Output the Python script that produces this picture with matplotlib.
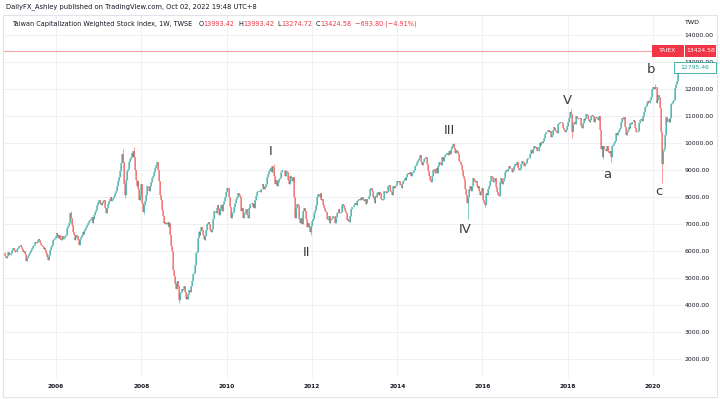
import numpy as np
import pandas as pd
import matplotlib
matplotlib.use("Agg")
import matplotlib.pyplot as plt
import matplotlib.dates as mdates
from matplotlib.patches import Rectangle
from matplotlib.ticker import FuncFormatter

# --------------------------
# Weekly closes of TAIEX, one list per year
# --------------------------
FIRST_OPEN = 5950
c2004 = [5920, 5810, 5760, 5830, 5950, 5990, 5850, 5870, 5930, 6000, 6050, 6140]
c2005 = [6040, 5990, 5960, 6010, 6080, 6130, 6190, 6200, 6240, 6170, 6080, 5990, 6010,
         5890, 5760, 5650, 5770, 5830, 5890, 5920, 5980, 6050, 6110, 6180, 6240,
         6260, 6330, 6290, 6360, 6410, 6460, 6400, 6300, 6240, 6190, 6150, 6090, 6130, 6040,
         5930, 5790, 5700, 5660, 5880, 6040, 6160, 6240, 6330, 6400, 6460, 6510, 6550]
c2006 = [6670, 6590, 6510, 6600, 6450, 6400, 6480, 6550, 6450, 6500, 6560, 6600, 6620,
         6860, 6950, 7050, 7120, 7400, 7230, 6970, 6710, 6600, 6420, 6510, 6620, 6560,
         6420, 6300, 6250, 6460, 6520, 6610, 6700, 6650, 6760, 6820, 6900, 6960, 6980,
         7050, 7110, 7160, 7210, 7260, 7060, 7200, 7350, 7460, 7540, 7610, 7700, 7820]
c2007 = [7910, 7750, 7800, 7700, 7780, 7850, 7900, 7600, 7450, 7400, 7600, 7750, 7880,
         7950, 8000, 7880, 7900, 7980, 8050, 8100, 8150, 8250, 8400, 8600, 8750, 8880,
         8980, 9280, 9610, 9300, 8950, 8500, 8090, 8650, 8980, 9050, 9150, 9300, 9410,
         9500, 9650, 9480, 9710, 9500, 9000, 8650, 8400, 8590, 8300, 7900, 8100, 8510]
c2008 = [8200, 7800, 7450, 7700, 7850, 8100, 8300, 8400, 8410, 8250, 8400, 8500, 8570,
         8700, 8800, 8950, 8920, 9100, 9200, 9300, 9000, 8620, 8450, 8100, 7900, 7520,
         7300, 7050, 7100, 7020, 7050, 7000, 7100, 6900, 7050, 6600, 6200, 6000, 5720,
         5300, 5100, 4800, 4600, 4870, 4900, 4700, 4200, 4460, 4500, 4600, 4550, 4590]
c2009 = [4700, 4500, 4250, 4300, 4250, 4400, 4550, 4500, 4560, 4700, 4900, 5150, 5210,
         5500, 5700, 5950, 5990, 6500, 6700, 6600, 6750, 6890, 6800, 6600, 6450, 6430,
         6550, 6800, 7000, 7050, 7080, 7000, 6800, 6700, 6830, 7200, 7400, 7500, 7510,
         7400, 7600, 7700, 7550, 7340, 7600, 7700, 7500, 7580, 7750, 7850, 8000, 8190]
c2010 = [8190, 8350, 8300, 8000, 7640, 7230, 7300, 7400, 7440, 7650, 7800, 7850, 7920,
         8000, 8150, 8100, 8000, 7950, 7500, 7600, 7250, 7370, 7400, 7450, 7550, 7330,
         7250, 7480, 7600, 7750, 7760, 7800, 7650, 7750, 7620, 7900, 8050, 8200, 8240,
         8230, 8250, 8200, 8300, 8290, 8500, 8400, 8300, 8370, 8500, 8700, 8750, 8850, 8970]
c2011 = [9050, 9100, 8950, 9150, 9100, 8800, 8500, 8600, 8650, 8400, 8550, 8680,
         8700, 8900, 8950, 9000, 9010, 9000, 8900, 8800, 8990, 8950, 8650, 8500, 8650,
         8800, 8700, 8600, 8750, 8640, 8000, 7250, 7600, 7740, 7700, 7500, 7200, 7050, 7230,
         7000, 7400, 7500, 7590, 7500, 7200, 6900, 6900, 7050, 6900, 6700, 6950, 7070]
c2012 = [7120, 7180, 7400, 7520, 7700, 7900, 8000, 8120, 8080, 8000, 8150, 7900, 7930,
         7700, 7600, 7500, 7500, 7450, 7200, 7150, 7300, 7050, 7150, 7200, 7250, 7300,
         7300, 7100, 7050, 7270, 7400, 7450, 7550, 7400, 7400, 7450, 7700, 7750, 7710,
         7600, 7500, 7400, 7170, 7200, 7150, 7100, 7300, 7580, 7600, 7650, 7650, 7700]
c2013 = [7800, 7750, 7700, 7850, 7900, 7950, 7900, 7980, 7950, 8000, 7900, 7850, 7920,
         7750, 7800, 7950, 7930, 8050, 8200, 8300, 8350, 8250, 8000, 7950, 7800, 8060,
         8000, 8150, 8200, 8100, 8200, 8150, 7950, 7900, 7920, 8100, 8250, 8230, 8170,
         8200, 8300, 8400, 8450, 8250, 8200, 8100, 8300, 8410, 8350, 8400, 8450, 8610]
c2014 = [8600, 8550, 8600, 8450, 8460, 8350, 8500, 8600, 8640, 8700, 8650, 8750, 8850,
         8900, 8850, 8950, 8790, 8800, 8900, 8950, 9000, 9080, 9150, 9200, 9300, 9390,
         9450, 9500, 9550, 9320, 9200, 9300, 9350, 9400, 9440, 9500, 9250, 9100, 8970,
         8800, 8650, 8550, 8800, 8970, 9000, 9050, 8900, 8950, 9100, 8900, 9150, 9300]
c2015 = [9270, 9200, 9350, 9500, 9360, 9500, 9550, 9600, 9620, 9650, 9550, 9700, 9590,
         9650, 9800, 9900, 9970, 9820, 9800, 9650, 9750, 9700, 9600, 9350, 9300, 9320,
         9200, 9000, 8800, 8700, 8660, 8300, 8100, 7800, 8020, 8150, 8300, 8400, 8250,
         8400, 8550, 8700, 8650, 8550, 8600, 8400, 8350, 8400, 8250, 8100, 8200, 8340]
c2016 = [8340, 7900, 7800, 7700, 8140, 8150, 8100, 8300, 8410, 8600, 8700, 8800, 8740,
         8550, 8600, 8700, 8500, 8380, 8200, 8100, 8050, 8350, 8550, 8700, 8500, 8600,
         8700, 8800, 8950, 9000, 8980, 9050, 9100, 9150, 9070, 9100, 8950, 9000, 9150, 9170,
         9250, 9200, 9300, 9290, 9100, 9000, 9050, 9240, 9300, 9350, 9300, 9150, 9250]
c2017 = [9270, 9350, 9400, 9450, 9450, 9600, 9750, 9750, 9650, 9800, 9900, 9850, 9810,
         9850, 9700, 9700, 9870, 10000, 9950, 10050, 10000, 10100, 10200, 10300, 10350, 10400,
         10400, 10500, 10450, 10430, 10450, 10250, 10300, 10500, 10600, 10550, 10500, 10450, 10380,
         10500, 10700, 10750, 10790, 10800, 10750, 10700, 10560, 10500, 10400, 10500, 10600, 10640]
c2018 = [10800, 10950, 11150, 11100, 10900, 10400, 10700, 10800, 10700, 10850, 11000, 10950, 10900,
         10900, 10950, 10700, 10650, 10550, 10750, 10900, 10880, 10950, 11100, 11050, 10900, 10840,
         10800, 10850, 11000, 11060, 11000, 10950, 10800, 10950, 10990, 10950, 10850, 10900, 11000,
         10500, 9800, 9900, 9500, 9900, 9800, 9800, 9700, 9890, 9850, 9700, 9650, 9730]
c2019 = [9500, 9800, 9900, 9930, 10000, 10100, 10200, 10390, 10300, 10400, 10500, 10550, 10640,
         10800, 10950, 10900, 10970, 10900, 10600, 10300, 10400, 10500, 10600, 10550, 10750, 10730,
         10800, 10780, 10850, 10820, 10550, 10400, 10400, 10450, 10620, 10750, 10850, 10900, 10830,
         10900, 11000, 11150, 11350, 11400, 11500, 11550, 11500, 11490, 11600, 11700, 11900, 12000]
c2020 = [12100, 12000, 12100, 12090, 11500, 11600, 11800, 11700, 11290, 11300, 10400, 9230, 9700,
         9800, 10300, 10600, 10990, 10800, 10800, 10900, 10800, 10940, 11450, 11500, 11550, 11620,
         11900, 12050, 12200, 12300, 12660, 12795.46]

# intraday extremes that poke out of the weekly bodies
wick_dates = ["2006-05-12", "2007-07-27", "2007-08-17", "2007-11-02", "2008-01-25",
              "2008-05-23", "2008-11-21", "2010-01-22", "2011-02-11", "2011-12-23",
              "2015-05-01", "2015-08-28", "2016-01-22", "2018-01-26", "2018-02-09",
              "2018-10-26", "2019-01-04", "2020-01-17", "2020-03-20"]
wick_prices = [7474, 9807, 7990, 9859, 7384, 9309, 4089, 8395, 9220, 6609,
               10014, 7203, 7627, 11270, 10189, 9400, 9319, 12197, 8523]

# Elliott wave labels
wave_labels = ["I", "II", "III", "IV", "V", "a", "b", "c"]
wave_dates = ["2011-01-15", "2011-11-20", "2015-03-20", "2015-08-05",
              "2017-12-25", "2018-12-08", "2019-12-14", "2020-02-20"]
wave_prices = [9680, 5970, 10490, 6790, 11600, 8830, 12715, 8200]

LAST_PRICE = 13424.58
LEGEND_VALUES = ["13993.42", "13993.42", "13274.72", "13424.58", "\u2212693.80 (\u22124.91%)"]

# --------------------------
# Build the weekly frame
# --------------------------
year_starts = [("2004-10-15", c2004), ("2005-01-01", c2005), ("2006-01-01", c2006),
               ("2007-01-01", c2007), ("2008-01-01", c2008), ("2009-01-01", c2009),
               ("2010-01-01", c2010), ("2011-01-01", c2011), ("2012-01-01", c2012),
               ("2013-01-01", c2013), ("2014-01-01", c2014), ("2015-01-01", c2015),
               ("2016-01-01", c2016), ("2017-01-01", c2017), ("2018-01-01", c2018),
               ("2019-01-01", c2019), ("2020-01-01", c2020)]
dates, closes = [], []
for start, vals in year_starts:
    dates.extend(pd.date_range(start=start, periods=len(vals), freq="W-FRI"))
    closes.extend(vals)
df = pd.DataFrame({"date": dates, "close": closes})
df["open"] = df["close"].shift(1).fillna(FIRST_OPEN)
df["high"] = df[["open", "close"]].max(axis=1)
df["low"] = df[["open", "close"]].min(axis=1)
for d, p in zip(wick_dates, wick_prices):
    m = df["date"] == pd.Timestamp(d)
    df.loc[m, "high"] = np.maximum(df.loc[m, "high"], p)
    df.loc[m, "low"] = np.minimum(df.loc[m, "low"], p)

UP, DOWN = "#26a69a", "#ef5350"
TXT = "#131722"
W, H = 720, 399

def fx(px):
    return px / W

def fy(py):
    return 1 - py / H

fig = plt.figure(figsize=(W / 100, H / 100), dpi=100)
ax = fig.add_axes([fx(3), fy(378), (682 - 3) / W, (378 - 15) / H])

x = mdates.date2num(df["date"])
cols = np.where(df["close"] >= df["open"], UP, DOWN)
ax.vlines(x, df["low"], df["high"], colors=cols, lw=0.6, alpha=0.65, zorder=3)
ax.vlines(x, df["open"], df["close"], colors=cols, lw=1.1, alpha=0.65, zorder=3)

ax.set_xlim(mdates.date2num(pd.Timestamp("2004-10-04")), mdates.date2num(pd.Timestamp("2020-09-05")))
ax.set_ylim(1307, 14752)

# axes styling (TradingView look)
for s in ax.spines.values():
    s.set_visible(False)
ax.set_yticks(np.arange(2000, 14001, 1000))
ax.yaxis.tick_right()
ax.yaxis.set_major_formatter(FuncFormatter(lambda v, _: f"{v:.2f}"))
ax.xaxis.set_major_locator(mdates.YearLocator(2))
ax.xaxis.set_major_formatter(mdates.DateFormatter("%Y"))
ax.tick_params(axis="y", length=0, pad=2, labelsize=4.4, labelcolor=TXT)
ax.tick_params(axis="x", length=0, pad=4, labelsize=4.2, labelcolor=TXT)
for lab in ax.get_xticklabels():
    lab.set_fontweight("bold")
ax.grid(True, color="#eef0f5", lw=0.7, zorder=0)

# current price line
ax.axhline(LAST_PRICE, xmax=(652 - 3) / (682 - 3), color="#f23645", alpha=0.45, lw=0.8, zorder=2)

# wave labels
for lab, d, p in zip(wave_labels, wave_dates, wave_prices):
    ax.text(mdates.date2num(pd.Timestamp(d)), p, lab, ha="center", va="center",
            fontsize=9.5, color="#3b3b3b", zorder=5)

# chart frame
fig.add_artist(Rectangle((fx(3), fy(397)), (717 - 3) / W, (397 - 15) / H, fill=False,
                         ec="#e0e3eb", lw=0.8, transform=fig.transFigure))

# header + legend line
fig.text(fx(6), fy(7), "DailyFX_Ashley published on TradingView.com, Oct 02, 2022 19:48 UTC+8",
         fontsize=4.9, color=TXT, va="center")
prev = fig.text(fx(12), fy(24), "Taiwan Capitalization Weighted Stock Index, 1W, TWSE",
                fontsize=4.7, color=TXT, va="center")
pieces = [("O", TXT, 4.5), (LEGEND_VALUES[0], "#f23645", 0.0),
          ("H", TXT, 2.5), (LEGEND_VALUES[1], "#f23645", 0.0),
          ("L", TXT, 2.5), (LEGEND_VALUES[2], "#f23645", 0.0),
          ("C", TXT, 2.5), (LEGEND_VALUES[3], "#f23645", 0.0),
          (LEGEND_VALUES[4], "#f23645", 2.5)]
for txt, col, gap in pieces:
    prev = ax.annotate(txt, xy=(1, 0), xycoords=prev, xytext=(gap, 0), textcoords="offset points",
                       ha="left", va="bottom", fontsize=4.7, color=col, annotation_clip=False)

fig.text(fx(684), fy(22), "TWD", fontsize=4.6, color=TXT, va="center")

# price tags on the right scale
fig.canvas.draw()
def price_py(p):
    return H - ax.transData.transform((0, p))[1]

py = price_py(LAST_PRICE)
fig.add_artist(Rectangle((fx(652), fy(py + 6)), 31.5 / W, 12 / H, fc="#f23645", ec="none",
                         transform=fig.transFigure, zorder=4))
fig.add_artist(Rectangle((fx(684.5), fy(py + 6)), 31.5 / W, 12 / H, fc="#f23645", ec="none",
                         transform=fig.transFigure, zorder=4))
fig.text(fx(667.8), fy(py), "TAIEX", fontsize=4.4, color="white", ha="center", va="center", zorder=5)
fig.text(fx(700.3), fy(py), f"{LAST_PRICE:.2f}", fontsize=4.4, color="white", ha="center",
         va="center", zorder=5)

last_close = df["close"].iloc[-1]
py2 = price_py(last_close)
fig.add_artist(Rectangle((fx(674), fy(py2 + 5.5)), 42 / W, 11 / H, fc="white", ec=UP, lw=0.6,
                         transform=fig.transFigure, zorder=4))
fig.text(fx(695), fy(py2), f"{last_close:.2f}", fontsize=4.4, color=UP, ha="center",
         va="center", zorder=5)

fig.savefig("out.png", dpi=100)
